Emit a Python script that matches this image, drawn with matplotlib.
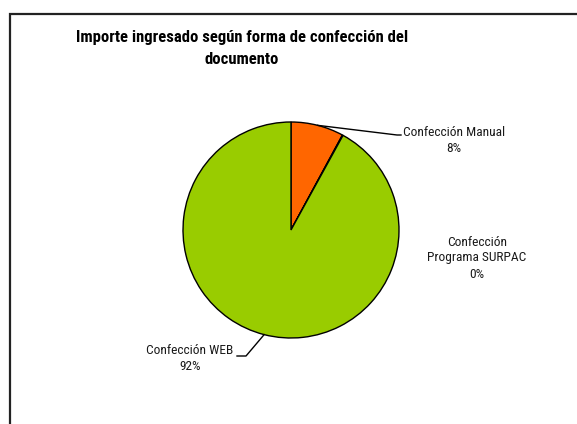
import numpy as np
import matplotlib
matplotlib.use("Agg")
import matplotlib.pyplot as plt
from matplotlib import font_manager

# datos
categorias = ["Confección Manual", "Confección\nPrograma SURPAC", "Confección WEB"]
porcentajes = [7.9, 0.1, 92.0]
etiquetas_pct = ["8%", "0%", "92%"]
colores = ["#FF6600", "#6666CC", "#99CC00"]

titulo = "Importe ingresado según forma de confección del\ndocumento"

W, H = 577, 424
nombres = {f.name for f in font_manager.fontManager.ttflist}
fuente = ["Roboto Condensed", "Liberation Sans Narrow", "Roboto", "DejaVu Sans"]
fuente = [f for f in fuente if f in nombres]

fig = plt.figure(figsize=(W / 100, H / 100), dpi=100)
ax = fig.add_axes([0, 0, 1, 1])

def yy(y):
    # pasar de coordenada de imagen (y hacia abajo) a y hacia arriba
    return H - y

cx, cy, R = 291, yy(230), 108
wedges, _ = ax.pie(porcentajes, colors=colores, startangle=90, counterclock=False,
                   center=(cx, cy), radius=R, frame=True,
                   wedgeprops=dict(edgecolor="black", linewidth=1.0))
ax.set_xlim(0, W)
ax.set_ylim(0, H)
ax.set_aspect("equal")
ax.axis("off")

# marco del grafico (se sale por la derecha y abajo)
ax.plot([10, 10, W + 5], [yy(H + 5), yy(14), yy(14)], color="#222222", lw=1.6,
        solid_joinstyle="miter", clip_on=False)

def punto_medio(w):
    ang = np.deg2rad((w.theta1 + w.theta2) / 2)
    return cx + R * np.cos(ang), cy + R * np.sin(ang)

# etiquetas
pos_etiquetas = [(454, 140), (477, 258), (190, 359)]
for i, (x, y) in enumerate(pos_etiquetas):
    ax.text(x, yy(y), categorias[i] + "\n" + etiquetas_pct[i], ha="center", va="center",
            fontsize=9.6, family=fuente, color="#1a1a1a", linespacing=1.3)

# lineas guia
mx, my = punto_medio(wedges[0])
ax.plot([mx, 397, 401], [my, yy(135), yy(135)], color="black", lw=1.0)
mx, my = punto_medio(wedges[2])
ax.plot([mx, 246, 237], [my, yy(356), yy(356)], color="black", lw=1.0)

ax.text(242, yy(48.5), titulo, ha="center", va="center", fontsize=12,
        fontweight="bold", family=fuente, linespacing=1.6)

fig.savefig("out.png", dpi=100)
